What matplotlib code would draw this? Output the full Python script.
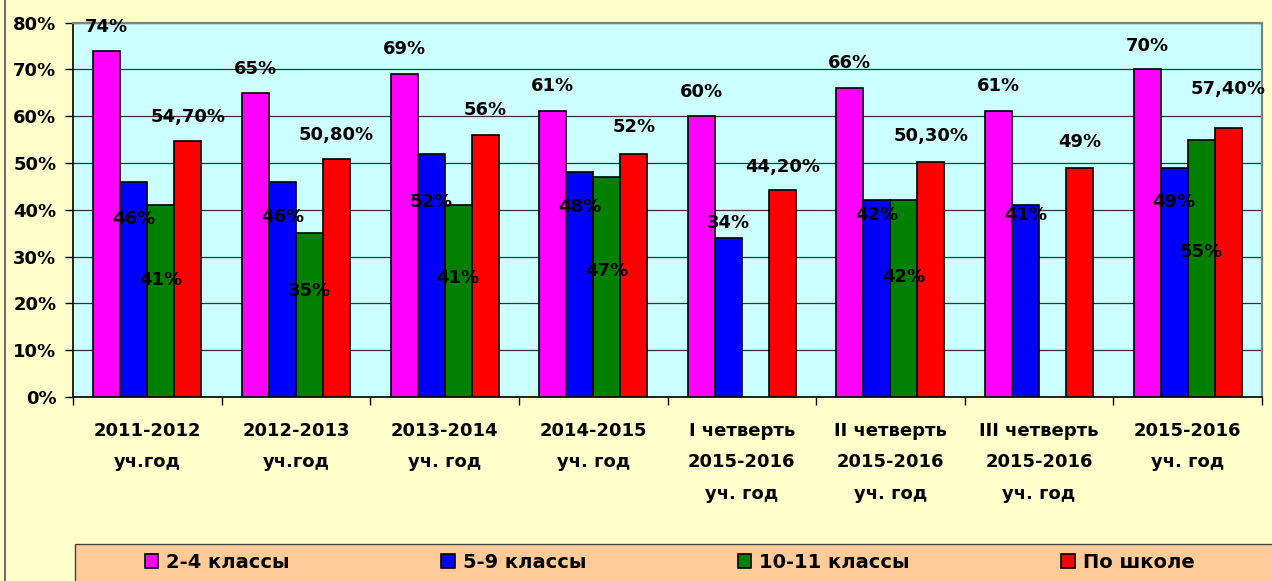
"""Успеваемость по ступеням обучения: сгруппированная столбчатая диаграмма."""
import numpy as np
import matplotlib
matplotlib.use("Agg")
import matplotlib.pyplot as plt
from matplotlib.patches import Patch, Rectangle
from matplotlib.lines import Line2D

plt.rcParams["font.family"] = ["DejaVu Sans"]
plt.rcParams["font.weight"] = "bold"

CATEGORIES = ["2011-2012\nуч.год", "2012-2013\nуч.год", "2013-2014\nуч. год",
              "2014-2015\nуч. год", "I четверть\n2015-2016\nуч. год",
              "II четверть\n2015-2016\nуч. год", "III четверть\n2015-2016\nуч. год",
              "2015-2016\nуч. год"]
SERIES = ["2-4 классы", "5-9 классы", "10-11 классы", "По школе"]
GRADES_2_4 = [74, 65, 69, 61, 60, 66, 61, 70]
GRADES_5_9 = [46, 46, 52, 48, 34, 42, 41, 49]
GRADES_10_11 = [41, 35, 41, 47, None, 42, None, 55]
SCHOOL = [54.7, 50.8, 56, 52, 44.2, 50.3, 49, 57.4]
LABELS_2_4 = ["74%", "65%", "69%", "61%", "60%", "66%", "61%", "70%"]
LABELS_5_9 = ["46%", "46%", "52%", "48%", "34%", "42%", "41%", "49%"]
LABELS_10_11 = ["41%", "35%", "41%", "47%", None, "42%", None, "55%"]
LABELS_SCHOOL = ["54,70%", "50,80%", "56%", "52%", "44,20%", "50,30%", "49%", "57,40%"]
COLORS = ["#FF00FF", "#0000FF", "#008000", "#FF0000"]

# где стоят подписи (в процентах по оси y) -- их двигали вручную в Excel
LABEL_Y = [
    [79.4, 70.4, 74.6, 66.7, 65.4, 71.6, 66.7, 75.4],
    [38.3, 38.8, 42.0, 41.0, 37.5, 39.3, 39.3, 41.9],
    [25.4, 23.0, 25.7, 27.2, None, 26.0, None, 31.3],
    [60.2, 56.3, 61.7, 58.0, 49.5, 56.1, 54.7, 66.1],
]

values = [GRADES_2_4, GRADES_5_9, GRADES_10_11, SCHOOL]
labels = [LABELS_2_4, LABELS_5_9, LABELS_10_11, LABELS_SCHOOL]

W, H = 1272, 581
fig = plt.figure(figsize=(W / 100, H / 100), dpi=100, facecolor="#FFFFCC")
ax = fig.add_axes([73 / W, 1 - 397 / H, (1262 - 73) / W, (397 - 22.5) / H])
ax.set_facecolor("#CCFFFF")

x = np.arange(len(CATEGORIES))
bw = 1 / 5.5  # gap width 150%
for j, (vals, col) in enumerate(zip(values, COLORS)):
    v = np.array([np.nan if a is None else a for a in vals], dtype=float)
    ax.bar(x + (j - 1.5) * bw, v, width=bw, color=col, edgecolor="black",
           linewidth=1.2, zorder=3)
    for i, (txt, ly) in enumerate(zip(labels[j], LABEL_Y[j])):
        if txt is None:
            continue
        ax.annotate(txt, (x[i] + (j - 1.5) * bw, ly), xytext=(0, -4.7),
                    textcoords="offset points", ha="center", va="baseline",
                    fontsize=13, fontweight="bold", zorder=5)

ax.set_xlim(-0.5, len(CATEGORIES) - 0.5)
ax.set_ylim(0, 80)
ax.set_yticks(range(0, 81, 10))
ax.set_yticklabels([f"{t}%" for t in range(0, 81, 10)])
ax.yaxis.grid(True, color="#333333", linewidth=0.9)
ax.set_axisbelow(True)

ax.set_xticks(np.arange(-0.5, len(CATEGORIES)), labels=[""] * (len(CATEGORIES) + 1))
ax.set_xticks(x, minor=True)
ax.set_xticklabels(CATEGORIES, minor=True, fontsize=13, fontweight="bold",
                   linespacing=1.95)
ax.tick_params(axis="x", which="major", length=6, width=1, direction="out")
ax.tick_params(axis="x", which="minor", length=0, pad=18)
ax.tick_params(axis="y", length=6, width=1, pad=6, labelsize=13)

for s in ("left", "bottom"):
    ax.spines[s].set_color("black")
    ax.spines[s].set_linewidth(1.2)
for s in ("top", "right"):
    ax.spines[s].set_color("#808080")
    ax.spines[s].set_linewidth(1.6)

# левая рамка листа и подложка легенды
fig.add_artist(Line2D([5 / W, 5 / W], [0, 1], color="#707070", linewidth=1.5))
fig.add_artist(Rectangle((75 / W, -0.05), 1.0, 0.05 + (1 - 544 / H),
                         transform=fig.transFigure, facecolor="#FFCC99",
                         edgecolor="#404040", linewidth=1))

handles = [Patch(facecolor=c, edgecolor="black", linewidth=1.2) for c in COLORS]
fig.legend(handles, SERIES, ncol=4, frameon=False, loc="center left",
           bbox_to_anchor=(127 / W, 1 - 562 / H), handlelength=0.7,
           handleheight=0.7, handletextpad=0.4, columnspacing=7.8,
           prop={"size": 14, "weight": "bold"})

fig.savefig("out.png", dpi=100, facecolor=fig.get_facecolor())
